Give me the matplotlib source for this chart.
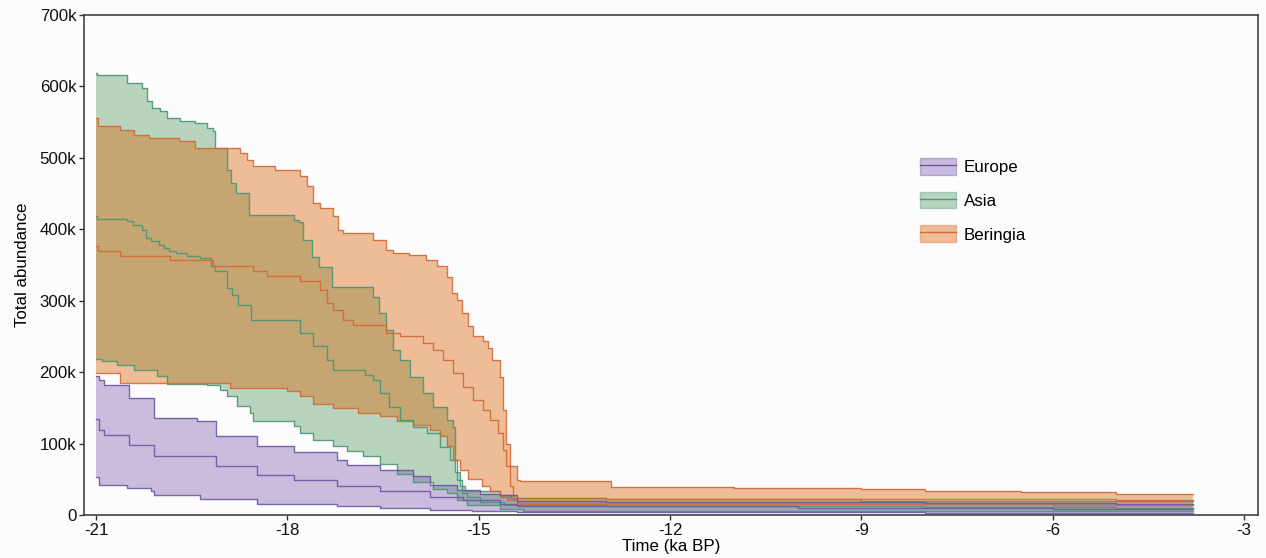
import numpy as np
import matplotlib
matplotlib.use("Agg")
import matplotlib.pyplot as plt
from matplotlib.patches import Patch
from matplotlib.lines import Line2D
from matplotlib.ticker import FuncFormatter

plt.rcParams['font.family'] = ['Liberation Sans', 'DejaVu Sans']
plt.rcParams['axes.unicode_minus'] = False

# Time (ka BP, negative = before present); abundance values in thousands.
T_END = -3.8

# ---- Europe ----
eu_hi_t = [-21.0, -20.95, -20.88, -20.48, -20.09, -19.42, -19.12, -18.47, -17.9, -17.23, -17.07,
           -16.55, -16.03, -15.76, -15.34, -14.98, -14.67, -14.4, -13.0, -8.0, -5.0]
eu_hi_v = [194, 189, 182, 164, 136, 131, 110, 96, 88, 77, 70,
           63, 54, 42, 35, 30, 28, 20, 18, 17, 16]
eu_md_t = [-21.0, -20.95, -20.88, -20.48, -20.09, -19.12, -18.47, -17.9, -17.23, -16.55,
           -15.76, -15.25, -14.67, -14.4, -10.0, -6.0]
eu_md_v = [134, 119, 112, 98, 82, 68, 56, 49, 40, 33,
           25, 21, 16, 12, 10, 9]
eu_lo_t = [-21.0, -20.95, -20.51, -20.14, -20.09, -19.37, -18.48, -17.23, -16.55, -15.76,
           -15.1, -14.4, -8.0]
eu_lo_v = [53, 42, 38, 33, 28, 23, 16, 12, 10, 7,
           5, 4, 3]

# ---- Asia ----
as_hi_t = [-21.0, -20.98, -20.51, -20.28, -20.2, -20.12, -20.0, -19.89, -19.68, -19.45, -19.26,
           -19.17, -19.13, -18.95, -18.88, -18.81, -18.6, -17.9, -17.82, -17.75, -17.62, -17.5,
           -17.3, -16.66, -16.56, -16.45, -16.34, -16.24, -16.08, -15.87, -15.72, -15.5, -15.4,
           -15.37, -15.3, -15.22, -14.67, -14.5, -13.0, -9.0, -6.0]
as_hi_v = [619, 616, 605, 598, 579, 570, 565, 556, 551, 549, 542,
           537, 514, 483, 465, 451, 420, 413, 410, 385, 361, 347,
           319, 305, 283, 259, 231, 217, 193, 171, 151, 133, 123,
           60, 40, 33, 28, 24, 22, 20, 19]
as_md_t = [-21.0, -20.98, -20.51, -20.42, -20.28, -20.22, -20.14, -20.01, -19.93, -19.85, -19.75,
           -19.57, -19.37, -19.2, -19.13, -18.95, -18.87, -18.77, -18.57, -17.8, -17.6, -17.38,
           -17.29, -16.78, -16.66, -16.55, -16.4, -16.24, -16.03, -15.81, -15.6, -15.45, -15.34,
           -15.26, -15.19, -14.98, -14.6, -13.0, -8.0, -5.0]
as_md_v = [419, 415, 411, 406, 399, 388, 383, 378, 374, 369, 367,
           363, 360, 348, 341, 318, 308, 294, 273, 255, 236, 217,
           203, 196, 189, 171, 151, 133, 123, 115, 95, 77, 49,
           31, 25, 18, 14, 12, 11, 10]
as_lo_t = [-21.0, -20.9, -20.67, -20.4, -20.04, -19.89, -19.26, -19.06, -18.95, -18.79, -18.59,
           -18.54, -17.9, -17.8, -17.6, -17.29, -17.07, -16.82, -16.55, -16.28, -16.03, -15.72,
           -15.5, -15.34, -15.19, -14.67, -14.3, -8.0]
as_lo_v = [218, 215, 210, 203, 194, 184, 182, 175, 166, 152, 143,
           131, 124, 115, 105, 96, 89, 82, 72, 58, 46, 37,
           31, 21, 14, 8, 6, 5]

# ---- Beringia ----
be_hi_t = [-21.0, -20.97, -20.62, -20.4, -20.17, -19.7, -19.45, -18.74, -18.64, -18.54, -18.2,
           -17.8, -17.7, -17.6, -17.49, -17.28, -17.2, -17.13, -16.66, -16.45, -16.34, -16.1,
           -15.82, -15.66, -15.5, -15.42, -15.34, -15.26, -15.17, -15.09, -14.93, -14.85, -14.79,
           -14.67, -14.62, -14.57, -14.51, -14.4, -14.35, -12.92, -11.0, -9.0, -8.0, -6.5, -5.0,
           -4.5]
be_hi_v = [556, 545, 539, 532, 528, 523, 514, 507, 497, 488, 483,
           474, 460, 437, 430, 418, 399, 395, 385, 371, 367, 364,
           357, 348, 333, 311, 301, 283, 264, 250, 243, 234, 217,
           193, 147, 100, 68, 49, 47, 39, 38, 36, 34, 32, 30,
           29]
be_md_t = [-21.0, -20.97, -20.62, -19.84, -19.17, -18.54, -18.32, -17.8, -17.49, -17.38, -17.28,
           -17.13, -16.97, -16.45, -16.24, -15.87, -15.72, -15.56, -15.4, -15.25, -15.09, -14.93,
           -14.82, -14.7, -14.62, -14.57, -14.51, -14.46, -13.0, -8.0, -5.0]
be_md_v = [376, 369, 362, 357, 348, 341, 334, 327, 315, 297, 287,
           273, 266, 255, 250, 241, 231, 217, 199, 179, 161, 147,
           133, 115, 91, 68, 40, 24, 23, 22, 21]
be_lo_t = [-21.0, -20.62, -18.9, -18.0, -17.8, -17.6, -17.28, -16.9, -16.55, -16.28, -16.03,
           -15.76, -15.6, -15.5, -15.4, -15.3, -15.17, -14.95, -14.82, -14.67, -14.55, -14.4,
           -10.0, -6.0]
be_lo_v = [199, 185, 178, 173, 166, 156, 150, 143, 138, 131, 126,
           119, 110, 96, 77, 63, 51, 40, 33, 25, 21, 16,
           15, 14]

regions = ["Europe", "Asia", "Beringia"]
colors = {"Europe": "#7d5dac", "Asia": "#529961", "Beringia": "#d95f02"}
line_colors = {"Europe": "#6c57a3", "Asia": "#4a9677", "Beringia": "#d26a35"}
series = {
    "Europe": ((eu_lo_t, eu_lo_v), (eu_md_t, eu_md_v), (eu_hi_t, eu_hi_v)),
    "Asia": ((as_lo_t, as_lo_v), (as_md_t, as_md_v), (as_hi_t, as_hi_v)),
    "Beringia": ((be_lo_t, be_lo_v), (be_md_t, be_md_v), (be_hi_t, be_hi_v)),
}


def step_at(t, v, grid):
    t = np.asarray(t, float)
    v = np.asarray(v, float)
    idx = np.searchsorted(t, grid, side="right") - 1
    return v[idx]


bg = "#fdfcfd"
fig = plt.figure(figsize=(12.66, 5.58), dpi=100, facecolor=bg)
ax = fig.add_axes([84 / 1266, 43 / 558, 1174 / 1266, 500 / 558])
ax.set_facecolor(bg)

draw_order = ["Asia", "Beringia", "Europe"]
for name in draw_order:
    curves = series[name]
    grid = np.unique(np.concatenate([np.asarray(c[0], float) for c in curves] + [[T_END]]))
    lo = step_at(*curves[0], grid) * 1000
    hi = step_at(*curves[2], grid) * 1000
    ax.fill_between(grid, lo, hi, step="post", facecolor=colors[name], alpha=0.4, lw=0)
    for t, v in curves:
        tt = list(t) + [T_END]
        vv = (np.array(list(v) + [v[-1]], float)) * 1000
        ax.step(tt, vv, where="post", color=line_colors[name], lw=1.0, alpha=0.9)

ax.set_xlim(-21.19, -2.78)
ax.set_ylim(0, 700000)
ax.set_xticks([-21, -18, -15, -12, -9, -6, -3])
ax.set_yticks(np.arange(0, 700001, 100000))
ax.yaxis.set_major_formatter(FuncFormatter(lambda y, _: "0" if y == 0 else f"{int(y / 1000)}k"))
ax.tick_params(axis="both", direction="out", length=3.5, width=1.0, labelsize=12.2,
               color="#333333", labelcolor="#111111", pad=2)
for sp in ax.spines.values():
    sp.set_color("#333333")
    sp.set_linewidth(1.1)

ax.set_xlabel("Time (ka BP)", fontsize=12.2, labelpad=1)
ax.set_ylabel("Total abundance", fontsize=12.2, labelpad=7)

handles = [(Patch(facecolor=colors[n], alpha=0.4, edgecolor=line_colors[n], lw=1.0),
            Line2D([], [], color=line_colors[n], lw=1.0)) for n in regions]
ax.legend(handles, regions, loc="upper left", bbox_to_anchor=(920 / 1266, 1 - 158 / 558),
          bbox_transform=fig.transFigure, frameon=False, fontsize=12.2,
          handlelength=2.1, handleheight=1.14, handletextpad=0.48, labelspacing=0.98,
          borderpad=0, borderaxespad=0)

fig.savefig("out.png", dpi=100, facecolor=bg)
